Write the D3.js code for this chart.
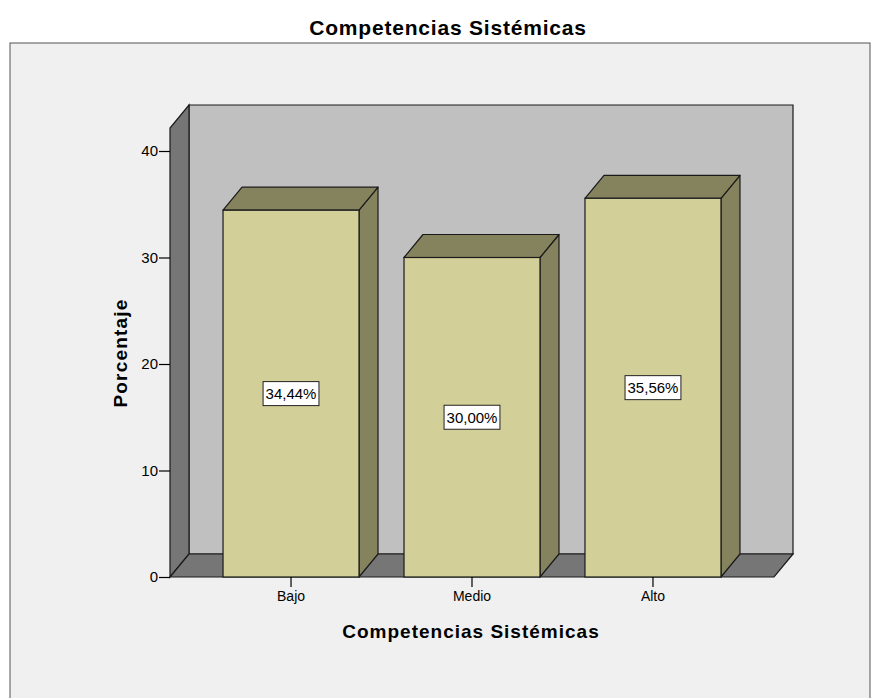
<!DOCTYPE html>
<html>
<head>
<meta charset="utf-8">
<script src="https://cdn.jsdelivr.net/npm/d3@7"></script>
<style>
  html, body { margin: 0; padding: 0; background: #ffffff; }
  svg { display: block; font-family: "Liberation Sans", Arial, sans-serif; }
</style>
</head>
<body>
<svg id="chart" width="873" height="698"></svg>
<script>
// Data
const categories = ["Bajo", "Medio", "Alto"];
const percentages = [34.44, 30.00, 35.56];
const valueLabels = ["34,44%", "30,00%", "35,56%"];
const yTicks = [0, 10, 20, 30, 40];

const svg = d3.select("#chart");
const W = 873, H = 698;

// Page background and chart frame
svg.append("rect").attr("x", 0).attr("y", 0).attr("width", W).attr("height", H).attr("fill", "#ffffff");
svg.append("rect").attr("x", 10).attr("y", 43).attr("width", 860).attr("height", 670)
  .attr("fill", "#f0f0f0").attr("stroke", "#555").attr("stroke-width", 1);

// Title
svg.append("text").attr("x", 448).attr("y", 35).attr("text-anchor", "middle")
  .attr("font-size", 21).attr("font-weight", "bold").attr("letter-spacing", 0.8).attr("fill", "#000")
  .text("Competencias Sistémicas");

// Plot geometry
const x0 = 170, x1 = 774;       // front plane extent
const dx = 19, dy = -23;        // depth offset
const yBase = 577;
const yTop = 42.16;

const y = d3.scaleLinear().domain([0, yTop]).range([yBase, 128]);
const x = d3.scaleBand().domain(categories).range([x0, x1]).paddingInner(0.2486).paddingOuter(0.293);

const line = pts => "M" + pts.map(p => p.join(",")).join("L") + "Z";
const stroke = "#1a1a1a";

// Back wall
svg.append("path").attr("d", line([[x0 + dx, y(yTop) + dy], [x1 + dx, y(yTop) + dy], [x1 + dx, yBase + dy], [x0 + dx, yBase + dy]]))
  .attr("fill", "#c0c0c0").attr("stroke", stroke).attr("stroke-width", 1.2);
// Left wall
svg.append("path").attr("d", line([[x0, yBase], [x0, y(yTop)], [x0 + dx, y(yTop) + dy], [x0 + dx, yBase + dy]]))
  .attr("fill", "#767676").attr("stroke", stroke).attr("stroke-width", 1.2);
// Floor
svg.append("path").attr("d", line([[x0, yBase], [x1, yBase], [x1 + dx, yBase + dy], [x0 + dx, yBase + dy]]))
  .attr("fill", "#767676").attr("stroke", stroke).attr("stroke-width", 1.2);

// Bars
const bars = svg.append("g");
categories.forEach((c, i) => {
  const bx = x(c), bw = x.bandwidth(), top = y(percentages[i]);
  const g = bars.append("g");
  // side
  g.append("path").attr("d", line([[bx + bw, yBase], [bx + bw, top], [bx + bw + dx, top + dy], [bx + bw + dx, yBase + dy]]))
    .attr("fill", "#85825e").attr("stroke", stroke).attr("stroke-width", 1.2).attr("stroke-linejoin", "round");
  // top
  g.append("path").attr("d", line([[bx, top], [bx + dx, top + dy], [bx + bw + dx, top + dy], [bx + bw, top]]))
    .attr("fill", "#85825e").attr("stroke", stroke).attr("stroke-width", 1.2).attr("stroke-linejoin", "round");
  // front
  g.append("rect").attr("x", bx).attr("y", top).attr("width", bw).attr("height", yBase - top)
    .attr("fill", "#d3cf98").attr("stroke", stroke).attr("stroke-width", 1.2);
});

// Value labels
categories.forEach((c, i) => {
  const cx = x(c) + x.bandwidth() / 2;
  const cy = (y(percentages[i]) + yBase) / 2;
  const g = svg.append("g");
  const t = g.append("text").attr("x", cx).attr("y", cy + 5.5).attr("text-anchor", "middle")
    .attr("font-size", 15).attr("fill", "#000").text(valueLabels[i]);
  const bb = t.node().getBBox();
  g.insert("rect", "text").attr("x", bb.x - 2.5).attr("y", cy - 12).attr("width", bb.width + 5).attr("height", 24)
    .attr("fill", "#ffffff").attr("stroke", "#222").attr("stroke-width", 1);
});

// Y axis
const yAxis = d3.axisLeft(y).tickValues(yTicks).tickSize(11).tickPadding(1).tickFormat(d3.format("d"));
const ya = svg.append("g").attr("transform", `translate(${x0},0)`).call(yAxis);
ya.select(".domain").remove();
ya.selectAll(".tick line").attr("stroke", "#000").attr("stroke-width", 1.2);
ya.selectAll(".tick text").attr("font-size", 15).attr("fill", "#000").attr("font-family", "Liberation Sans, Arial, sans-serif");

// X axis
const xAxis = d3.axisBottom(x).tickSize(10).tickPadding(4);
const xa = svg.append("g").attr("transform", `translate(0,${yBase})`).call(xAxis);
xa.select(".domain").remove();
xa.selectAll(".tick line").attr("stroke", "#000").attr("stroke-width", 1.2);
xa.selectAll(".tick text").attr("font-size", 14).attr("fill", "#000").attr("font-family", "Liberation Sans, Arial, sans-serif");

// Axis titles
svg.append("text").attr("x", 471).attr("y", 638).attr("text-anchor", "middle")
  .attr("font-size", 19).attr("font-weight", "bold").attr("letter-spacing", 1.0).attr("fill", "#000")
  .text("Competencias Sistémicas");
svg.append("text").attr("transform", "translate(127,353) rotate(-90)").attr("text-anchor", "middle")
  .attr("font-size", 19).attr("font-weight", "bold").attr("letter-spacing", 1.2).attr("fill", "#000")
  .text("Porcentaje");
</script>
</body>
</html>
